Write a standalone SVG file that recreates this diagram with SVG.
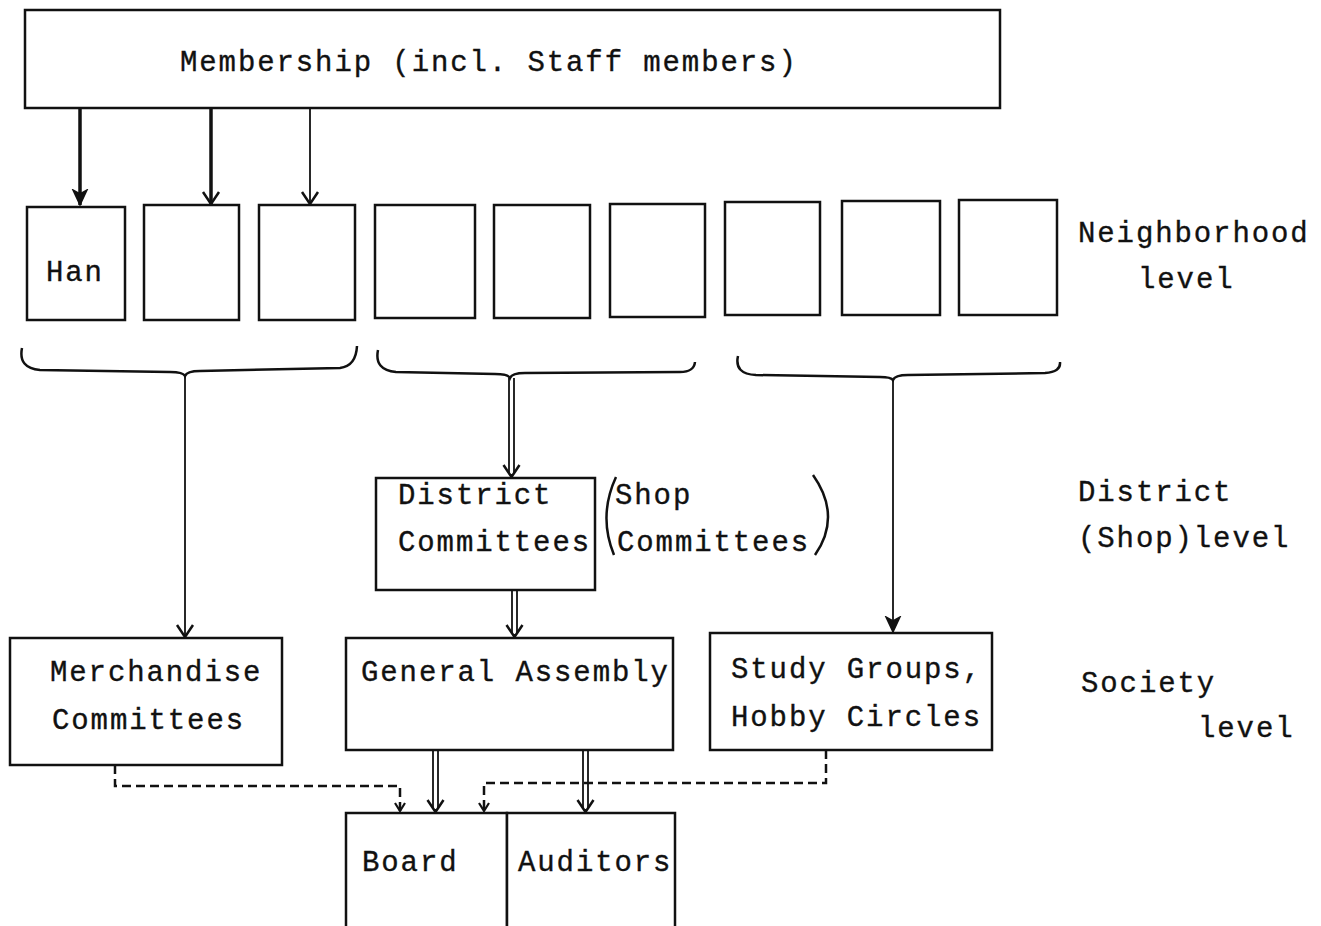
<svg xmlns="http://www.w3.org/2000/svg" width="1321" height="926" viewBox="0 0 1321 926">
<style>
.box{fill:#fff;stroke:#111;stroke-width:2.5}
.t{font-family:"Liberation Mono","Courier New",monospace;font-size:29px;letter-spacing:1.9px;fill:#111;stroke:#111;stroke-width:0.35}
.ln{fill:none;stroke:#111;stroke-width:1.8}
.bold{fill:none;stroke:#111;stroke-width:3.5}
.dash{fill:none;stroke:#111;stroke-width:2.5;stroke-dasharray:9 5}
.br{fill:none;stroke:#111;stroke-width:2.5}
</style>
<defs>
<marker id="open" viewBox="-14 -10 16 20" refX="0" refY="0" markerWidth="16" markerHeight="20" markerUnits="userSpaceOnUse" orient="auto">
<path d="M-12,-8 L0,0 L-12,8" fill="none" stroke="#111" stroke-width="2.5"/>
</marker>
<marker id="fill" viewBox="-16 -10 18 20" refX="0" refY="0" markerWidth="18" markerHeight="20" markerUnits="userSpaceOnUse" orient="auto">
<path d="M-15,-7 L0,0 L-15,7 L-11,0 Z" fill="#111" stroke="#111" stroke-width="1.5"/>
</marker>
<marker id="small" viewBox="-10 -8 12 16" refX="0" refY="0" markerWidth="12" markerHeight="16" markerUnits="userSpaceOnUse" orient="auto">
<path d="M-8,-5 L0,0 L-8,5" fill="none" stroke="#111" stroke-width="2.2"/>
</marker>
</defs>

<g id="connectors">
<line class="bold" x1="80" y1="108" x2="80" y2="205" marker-end="url(#fill)"/>
<line class="bold" x1="211" y1="108" x2="211" y2="204" marker-end="url(#open)"/>
<line class="ln" x1="310" y1="108" x2="310" y2="204" marker-end="url(#open)"/>
<path class="br" d="M22,348 Q18,368 40,370 L170,372 Q183,372 185,376 Q187,371 200,371 L340,368 Q356,366 357,346"/>
<path class="br" d="M378,350 Q374,370 396,372 L495,374 Q508,374 510,378 Q512,373 525,373 L680,372 Q694,372 695,362"/>
<path class="br" d="M738,356 Q734,374 756,375 L880,377 Q891,377 893,380 Q895,375 908,375 L1045,373 Q1061,372 1060,362"/>
<line class="ln" x1="185" y1="376" x2="185" y2="637" marker-end="url(#open)"/>
<line class="ln" x1="509" y1="378" x2="509" y2="474"/>
<line class="ln" x1="514" y1="378" x2="514" y2="474"/>
<line class="ln" x1="511.5" y1="474" x2="511.5" y2="477" marker-end="url(#open)"/>
<line class="ln" x1="893" y1="380" x2="893" y2="632" marker-end="url(#fill)"/>
<line class="ln" x1="512" y1="590" x2="512" y2="634"/>
<line class="ln" x1="517" y1="590" x2="517" y2="634"/>
<line class="ln" x1="514.5" y1="634" x2="514.5" y2="637" marker-end="url(#open)"/>
<line class="ln" x1="433" y1="750" x2="433" y2="809"/>
<line class="ln" x1="438" y1="750" x2="438" y2="809"/>
<line class="ln" x1="435.5" y1="809" x2="435.5" y2="812" marker-end="url(#open)"/>
<line class="ln" x1="583" y1="750" x2="583" y2="809"/>
<line class="ln" x1="588" y1="750" x2="588" y2="809"/>
<line class="ln" x1="585.5" y1="809" x2="585.5" y2="812" marker-end="url(#open)"/>
<path class="dash" d="M115,765 L115,786 L400,786 L400,811" marker-end="url(#small)"/>
<path class="dash" d="M826,750 L826,783 L484,783 L484,811" marker-end="url(#small)"/>
<path class="br" d="M616,477 Q598,516 614,555"/>
<path class="br" d="M813,475 Q842,516 815,555"/>
</g>

<g id="membership">
<rect class="box" x="25" y="10" width="975" height="98"/>
<text class="t" x="180" y="71">Membership (incl. Staff members)</text>
</g>

<g id="han1"><rect class="box" x="27" y="207" width="98" height="113"/><text class="t" x="46" y="281">Han</text></g>
<g id="han2"><rect class="box" x="144" y="205" width="95" height="115"/></g>
<g id="han3"><rect class="box" x="259" y="205" width="96" height="115"/></g>
<g id="han4"><rect class="box" x="375" y="205" width="100" height="113"/></g>
<g id="han5"><rect class="box" x="494" y="205" width="96" height="113"/></g>
<g id="han6"><rect class="box" x="610" y="204" width="95" height="113"/></g>
<g id="han7"><rect class="box" x="725" y="202" width="95" height="113"/></g>
<g id="han8"><rect class="box" x="842" y="201" width="98" height="114"/></g>
<g id="han9"><rect class="box" x="959" y="200" width="98" height="115"/></g>

<g id="district">
<rect class="box" x="376" y="478" width="219" height="112"/>
<text class="t" x="398" y="504">District</text>
<text class="t" x="398" y="551">Committees</text>
</g>
<g id="shop">
<text class="t" x="615" y="504">Shop</text>
<text class="t" x="617" y="551">Committees</text>
</g>

<g id="merchandise">
<rect class="box" x="10" y="638" width="272" height="127"/>
<text class="t" x="50" y="681">Merchandise</text>
<text class="t" x="52" y="729">Committees</text>
</g>
<g id="assembly">
<rect class="box" x="346" y="638" width="327" height="112"/>
<text class="t" x="361" y="681">General Assembly</text>
</g>
<g id="study">
<rect class="box" x="710" y="633" width="282" height="117"/>
<text class="t" x="731" y="678">Study Groups,</text>
<text class="t" x="731" y="726">Hobby Circles</text>
</g>

<g id="board">
<rect class="box" x="346" y="813" width="161" height="115"/>
<text class="t" x="362" y="871">Board</text>
</g>
<g id="auditors">
<rect class="box" x="507" y="813" width="168" height="115"/>
<text class="t" x="518" y="871">Auditors</text>
</g>

<g id="levels">
<text class="t" x="1078" y="242">Neighborhood</text>
<text class="t" x="1138" y="288">level</text>
<text class="t" x="1078" y="501">District</text>
<text class="t" x="1078" y="547">(Shop)level</text>
<text class="t" x="1081" y="692">Society</text>
<text class="t" x="1198" y="737">level</text>
</g>
</svg>
